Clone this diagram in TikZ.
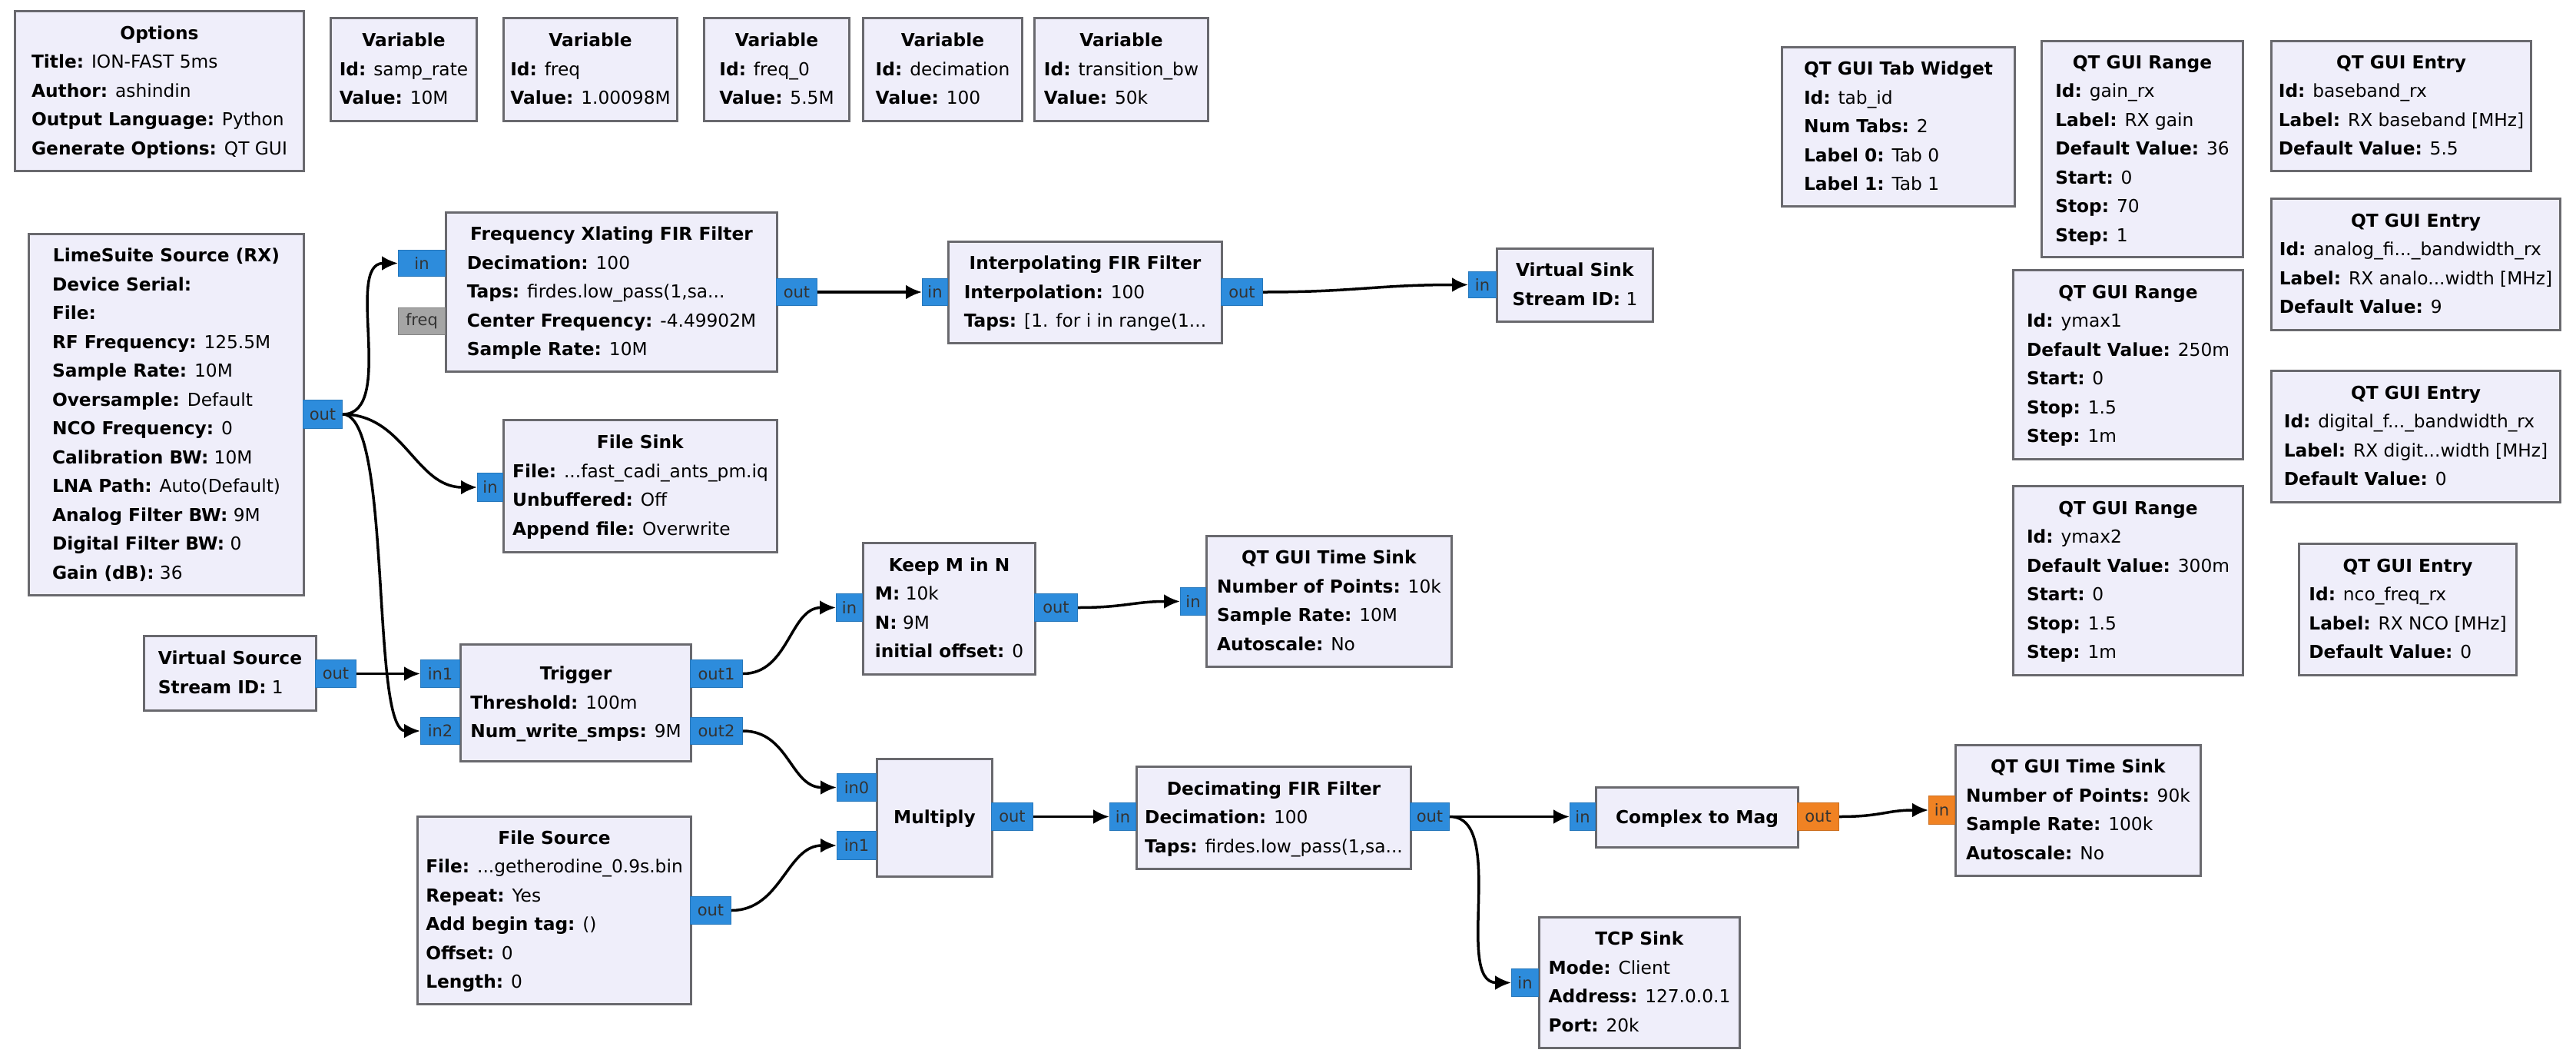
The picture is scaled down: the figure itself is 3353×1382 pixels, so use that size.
\documentclass[tikz,border=0pt]{standalone}
\usepackage{fontspec}
\setmainfont{DejaVu Sans}
\usetikzlibrary{arrows.meta}
\definecolor{blkfill}{RGB}{239,238,250}
\definecolor{blkborder}{RGB}{105,105,110}
\definecolor{portblue}{RGB}{45,140,220}
\definecolor{portorange}{RGB}{240,130,35}
\definecolor{portgray}{RGB}{165,165,165}
\newcommand{\kv}[2]{\\\textbf{#1:} #2}
\newcommand{\ttl}[2]{\begin{tabular}{@{}l@{}}\multicolumn{1}{@{}c@{}}{\textbf{#1}}#2\end{tabular}}
\newcommand{\gblk}[6]{\pgfmathsetmacro{\bw}{#4-#2}\pgfmathsetmacro{\bh}{#5-#3}\node[block, minimum width=\bw pt, minimum height=\bh pt] (#1) at (#2,#3) {#6};}
\newcommand{\gport}[7]{\pgfmathsetmacro{\bw}{#5-#3}\pgfmathsetmacro{\bh}{#6-#4}\node[#1, minimum width=\bw pt, minimum height=\bh pt] (#2) at (#3,#4) {#7};}
\tikzset{
  block/.style={draw=blkborder, line width=3pt, fill=blkfill, inner sep=0pt, anchor=north west, font=\fontsize{23.3}{37.5}\selectfont},
  portb/.style={fill=portblue, draw=portblue!85!black, line width=1pt, inner sep=0pt, anchor=north west, text=black!80, font=\fontsize{21}{21}\selectfont},
  porto/.style={portb, fill=portorange, draw=portorange!85!black},
  portg/.style={portb, fill=portgray, draw=portgray!80!black},
  conn/.style={line width=3.5pt, -{Latex[length=21pt,width=19pt]}},
}
\begin{document}
\begin{tikzpicture}[x=1pt,y=-1pt]
\fill[white] (0,0) rectangle (3353,1382);
\useasboundingbox (0,0) rectangle (3353,1382);
% --- blocks ---
\gblk{options}{18}{13}{394}{221}{\ttl{Options}{\kv{Title}{ION-FAST 5ms}\kv{Author}{ashindin}\kv{Output Language}{Python}\kv{Generate Options}{QT GUI}}}
\gblk{var1}{429}{22}{619}{156}{\ttl{Variable}{\kv{Id}{samp\_rate}\kv{Value}{10M}}}
\gblk{var2}{654}{22}{880}{156}{\ttl{Variable}{\kv{Id}{freq}\kv{Value}{1.00098M}}}
\gblk{var3}{915}{22}{1104}{156}{\ttl{Variable}{\kv{Id}{freq\_0}\kv{Value}{5.5M}}}
\gblk{var4}{1122}{22}{1329}{156}{\ttl{Variable}{\kv{Id}{decimation}\kv{Value}{100}}}
\gblk{var5}{1345}{22}{1571}{156}{\ttl{Variable}{\kv{Id}{transition\_bw}\kv{Value}{50k}}}
\gblk{lime}{36}{303}{394}{773}{\ttl{LimeSuite Source (RX)}{\kv{Device Serial}{}\kv{File}{}\kv{RF Frequency}{125.5M}\kv{Sample Rate}{10M}\kv{Oversample}{Default}\kv{NCO Frequency}{0}\kv{Calibration BW}{10M}\kv{LNA Path}{Auto(Default)}\kv{Analog Filter BW}{9M}\kv{Digital Filter BW}{0}\kv{Gain (dB)}{36}}}
\gblk{xlat}{579}{275}{1010}{482}{\ttl{Frequency Xlating FIR Filter}{\kv{Decimation}{100}\kv{Taps}{firdes.low\_pass(1,sa...}\kv{Center Frequency}{-4.49902M}\kv{Sample Rate}{10M}}}
\gblk{fsink}{654}{545}{1010}{717}{\ttl{File Sink}{\kv{File}{...fast\_cadi\_ants\_pm.iq}\kv{Unbuffered}{Off}\kv{Append file}{Overwrite}}}
\gblk{interp}{1233}{313}{1589}{445}{\ttl{Interpolating FIR Filter}{\kv{Interpolation}{100}\kv{Taps}{[1. for i in range(1...}}}
\gblk{vsink}{1947}{322}{2150}{417}{\ttl{Virtual Sink}{\kv{Stream ID}{1}}}
\gblk{keep}{1122}{705}{1346}{876}{\ttl{Keep M in N}{\kv{M}{10k}\kv{N}{9M}\kv{initial offset}{0}}}
\gblk{tsinka}{1569}{696}{1888}{866}{\ttl{QT GUI Time Sink}{\kv{Number of Points}{10k}\kv{Sample Rate}{10M}\kv{Autoscale}{No}}}
\gblk{vsrc}{186}{826}{410}{923}{\ttl{Virtual Source}{\kv{Stream ID}{1}}}
\gblk{trig}{598}{837}{898}{989}{\ttl{Trigger}{\kv{Threshold}{100m}\kv{Num\_write\_smps}{9M}}}
\gblk{mult}{1140}{986}{1290}{1139}{\ttl{Multiply}{}}
\gblk{decim}{1478}{996}{1835}{1129}{\ttl{Decimating FIR Filter}{\kv{Decimation}{100}\kv{Taps}{firdes.low\_pass(1,sa...}}}
\gblk{cmag}{2076}{1023}{2339}{1101}{\ttl{Complex to Mag}{}}
\gblk{tsinkb}{2544}{968}{2863}{1138}{\ttl{QT GUI Time Sink}{\kv{Number of Points}{90k}\kv{Sample Rate}{100k}\kv{Autoscale}{No}}}
\gblk{fsrc}{542}{1061}{898}{1305}{\ttl{File Source}{\kv{File}{...getherodine\_0.9s.bin}\kv{Repeat}{Yes}\kv{Add begin tag}{()}\kv{Offset}{0}\kv{Length}{0}}}
\gblk{tcp}{2002}{1192}{2263}{1362}{\ttl{TCP Sink}{\kv{Mode}{Client}\kv{Address}{127.0.0.1}\kv{Port}{20k}}}
\gblk{tab}{2318}{60}{2621}{267}{\ttl{QT GUI Tab Widget}{\kv{Id}{tab\_id}\kv{Num Tabs}{2}\kv{Label 0}{Tab 0}\kv{Label 1}{Tab 1}}}
\gblk{rangea}{2656}{52}{2918}{333}{\ttl{QT GUI Range}{\kv{Id}{gain\_rx}\kv{Label}{RX gain}\kv{Default Value}{36}\kv{Start}{0}\kv{Stop}{70}\kv{Step}{1}}}
\gblk{entrya}{2955}{52}{3293}{221}{\ttl{QT GUI Entry}{\kv{Id}{baseband\_rx}\kv{Label}{RX baseband [MHz]}\kv{Default Value}{5.5}}}
\gblk{entryb}{2955}{257}{3331}{428}{\ttl{QT GUI Entry}{\kv{Id}{analog\_fi...\_bandwidth\_rx}\kv{Label}{RX analo...width [MHz]}\kv{Default Value}{9}}}
\gblk{rangeb}{2619}{350}{2918}{596}{\ttl{QT GUI Range}{\kv{Id}{ymax1}\kv{Default Value}{250m}\kv{Start}{0}\kv{Stop}{1.5}\kv{Step}{1m}}}
\gblk{entryc}{2955}{481}{3331}{652}{\ttl{QT GUI Entry}{\kv{Id}{digital\_f...\_bandwidth\_rx}\kv{Label}{RX digit...width [MHz]}\kv{Default Value}{0}}}
\gblk{rangec}{2619}{631}{2918}{877}{\ttl{QT GUI Range}{\kv{Id}{ymax2}\kv{Default Value}{300m}\kv{Start}{0}\kv{Stop}{1.5}\kv{Step}{1m}}}
\gblk{entryd}{2991}{706}{3274}{877}{\ttl{QT GUI Entry}{\kv{Id}{nco\_freq\_rx}\kv{Label}{RX NCO [MHz]}\kv{Default Value}{0}}}
% --- ports ---
\gport{portb}{limeout}{394}{520}{445}{557}{out}
\gport{portb}{xlatin}{518}{325}{579}{359}{in}
\gport{portg}{xlatfreq}{518}{400}{579}{435}{freq}
\gport{portb}{xlatout}{1010}{362}{1063}{397}{out}
\gport{portb}{fsinkin}{621}{615}{654}{652}{in}
\gport{portb}{interpin}{1200}{362}{1233}{397}{in}
\gport{portb}{interpout}{1589}{362}{1643}{397}{out}
\gport{portb}{vsinkin}{1911}{353}{1947}{387}{in}
\gport{portb}{keepin}{1088}{772}{1122}{808}{in}
\gport{portb}{keepout}{1346}{772}{1402}{808}{out}
\gport{portb}{tsinkain}{1536}{764}{1569}{800}{in}
\gport{portb}{vsrcout}{410}{858}{463}{894}{out}
\gport{portb}{trigina}{547}{858}{598}{894}{in1}
\gport{portb}{triginb}{547}{933}{598}{968}{in2}
\gport{portb}{trigouta}{898}{858}{966}{894}{out1}
\gport{portb}{trigoutb}{898}{933}{966}{968}{out2}
\gport{portb}{multina}{1089}{1006}{1140}{1042}{in0}
\gport{portb}{multinb}{1089}{1081}{1140}{1118}{in1}
\gport{portb}{multout}{1290}{1044}{1344}{1080}{out}
\gport{portb}{decimin}{1444}{1044}{1478}{1080}{in}
\gport{portb}{decimout}{1835}{1044}{1886}{1080}{out}
\gport{portb}{cmagin}{2043}{1044}{2076}{1080}{in}
\gport{porto}{cmagout}{2339}{1044}{2393}{1080}{out}
\gport{porto}{tsinkbin}{2510}{1035}{2544}{1072}{in}
\gport{portb}{fsrcout}{898}{1166}{951}{1202}{out}
\gport{portb}{tcpin}{1967}{1260}{2002}{1296}{in}
% --- connections ---
\draw[conn] (limeout.east) .. controls +(70,0) and +(-70,0) .. (xlatin.west);
\draw[conn] (limeout.east) .. controls +(80,0) and +(-80,0) .. (fsinkin.west);
\draw[conn] (limeout.east) .. controls +(65,0) and +(-65,0) .. (triginb.west);
\draw[conn] (xlatout.east) -- (interpin.west);
\draw[conn] (interpout.east) .. controls +(120,0) and +(-120,0) .. (vsinkin.west);
\draw[conn] (vsrcout.east) -- (trigina.west);
\draw[conn] (trigouta.east) .. controls +(60,0) and +(-60,0) .. (keepin.west);
\draw[conn] (trigoutb.east) .. controls +(60,0) and +(-60,0) .. (multina.west);
\draw[conn] (fsrcout.east) .. controls +(65,0) and +(-65,0) .. (multinb.west);
\draw[conn] (keepout.east) .. controls +(60,0) and +(-60,0) .. (tsinkain.west);
\draw[conn] (multout.east) -- (decimin.west);
\draw[conn] (decimout.east) -- (cmagin.west);
\draw[conn] (decimout.east) .. controls +(75,0) and +(-75,0) .. (tcpin.west);
\draw[conn] (cmagout.east) .. controls +(55,0) and +(-55,0) .. (tsinkbin.west);
\end{tikzpicture}
\end{document}
